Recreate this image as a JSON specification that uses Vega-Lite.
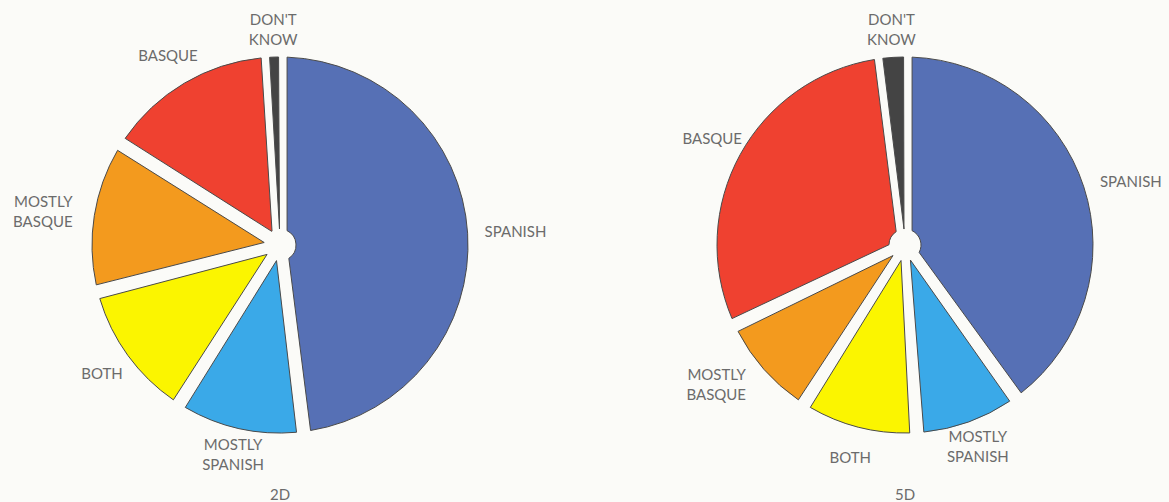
{
  "$schema": "https://vega.github.io/schema/vega-lite/v6.json",
  "background": "#fbfbf8",
  "padding": {"left": 0, "top": 6, "right": 0, "bottom": 0},
  "spacing": 81,
  "config": {
    "view": {"stroke": null},
    "title": {"font": "Lato", "fontSize": 15, "fontWeight": "normal", "color": "#6b6b6b", "orient": "bottom", "anchor": "middle", "offset": 0, "frame": "group"}
  },
  "datasets": {
    "d2": [
      {"answer": "SPANISH", "label": "SPANISH", "k": 1, "pct": 48},
      {"answer": "MOSTLY SPANISH", "label": "MOSTLY\nSPANISH", "k": 2, "pct": 11},
      {"answer": "BOTH", "label": "BOTH", "k": 3, "pct": 12},
      {"answer": "MOSTLY BASQUE", "label": "MOSTLY\nBASQUE", "k": 4, "pct": 13},
      {"answer": "BASQUE", "label": "BASQUE", "k": 5, "pct": 15},
      {"answer": "DON'T KNOW", "label": "DON'T\nKNOW", "k": 6, "pct": 1}
    ],
    "d5": [
      {"answer": "SPANISH", "label": "SPANISH", "k": 1, "pct": 40},
      {"answer": "MOSTLY SPANISH", "label": "MOSTLY\nSPANISH", "k": 2, "pct": 9},
      {"answer": "BOTH", "label": "BOTH", "k": 3, "pct": 10},
      {"answer": "MOSTLY BASQUE", "label": "MOSTLY\nBASQUE", "k": 4, "pct": 9},
      {"answer": "BASQUE", "label": "BASQUE", "k": 5, "pct": 30},
      {"answer": "DON'T KNOW", "label": "DON'T\nKNOW", "k": 6, "pct": 2}
    ]
  },
  "hconcat": [
    {
      "width": 560,
      "height": 478,
      "title": "2D",
      "data": {"name": "d2"},
      "encoding": {
        "theta": {"field": "pct", "type": "quantitative", "stack": true},
        "order": {"field": "k", "type": "quantitative"},
        "color": {
          "field": "answer", "type": "nominal", "legend": null,
          "scale": {
            "domain": ["SPANISH", "MOSTLY SPANISH", "BOTH", "MOSTLY BASQUE", "BASQUE", "DON'T KNOW"],
            "range": ["#5670b5", "#3aa9e8", "#fbf500", "#f39a1e", "#ef4130", "#444444"]
          }
        }
      },
      "layer": [
        {
          "mark": {"type": "arc", "outerRadius": 188, "innerRadius": 16, "padAngle": 0.075, "stroke": "#4a4a4a", "strokeWidth": 1},
          "encoding": {"opacity": {"condition": {"test": "datum.k == 6", "value": 0}, "value": 1}}
        },
        {
          "mark": {"type": "arc", "outerRadius": 188, "innerRadius": 16, "padAngle": 0.015, "stroke": "#4a4a4a", "strokeWidth": 1},
          "encoding": {"opacity": {"condition": {"test": "datum.k == 6", "value": 1}, "value": 0}}
        },
        {
          "mark": {"type": "text", "radius": 220, "font": "Lato", "fontSize": 15, "align": "center", "baseline": "middle"},
          "encoding": {
            "color": {"value": "#6b6b6b"},
            "text": {"condition": {"test": "datum.k == 3 || datum.k == 5", "field": "label"}, "value": ""}
          }
        },
        {
          "mark": {"type": "text", "radius": 205, "font": "Lato", "fontSize": 15, "align": "left", "baseline": "middle"},
          "encoding": {
            "color": {"value": "#6b6b6b"},
            "text": {"condition": {"test": "datum.k == 1", "field": "label"}, "value": ""}
          }
        },
        {
          "mark": {"type": "text", "radius": 210, "font": "Lato", "fontSize": 15, "lineBreak": "\n", "lineHeight": 20, "dy": -10, "align": "right", "baseline": "middle"},
          "encoding": {
            "color": {"value": "#6b6b6b"},
            "text": {"condition": {"test": "datum.k == 4", "field": "label"}, "value": ""}
          }
        },
        {
          "mark": {"type": "text", "radius": 215, "font": "Lato", "fontSize": 15, "lineBreak": "\n", "lineHeight": 20, "dy": -10, "align": "center", "baseline": "middle"},
          "encoding": {
            "color": {"value": "#6b6b6b"},
            "text": {"condition": {"test": "datum.k == 2 || datum.k == 6", "field": "label"}, "value": ""}
          }
        }
      ]
    },
    {
      "width": 528,
      "height": 478,
      "title": "5D",
      "data": {"name": "d5"},
      "encoding": {
        "theta": {"field": "pct", "type": "quantitative", "stack": true},
        "order": {"field": "k", "type": "quantitative"},
        "color": {
          "field": "answer", "type": "nominal", "legend": null,
          "scale": {
            "domain": ["SPANISH", "MOSTLY SPANISH", "BOTH", "MOSTLY BASQUE", "BASQUE", "DON'T KNOW"],
            "range": ["#5670b5", "#3aa9e8", "#fbf500", "#f39a1e", "#ef4130", "#444444"]
          }
        }
      },
      "layer": [
        {
          "mark": {"type": "arc", "outerRadius": 188, "innerRadius": 16, "padAngle": 0.075, "stroke": "#4a4a4a", "strokeWidth": 1},
          "encoding": {"opacity": {"condition": {"test": "datum.k == 6", "value": 0}, "value": 1}}
        },
        {
          "mark": {"type": "arc", "outerRadius": 188, "innerRadius": 16, "padAngle": 0.015, "stroke": "#4a4a4a", "strokeWidth": 1},
          "encoding": {"opacity": {"condition": {"test": "datum.k == 6", "value": 1}, "value": 0}}
        },
        {
          "mark": {"type": "text", "radius": 220, "font": "Lato", "fontSize": 15, "align": "center", "baseline": "middle"},
          "encoding": {
            "color": {"value": "#6b6b6b"},
            "text": {"condition": {"test": "datum.k == 3 || datum.k == 5", "field": "label"}, "value": ""}
          }
        },
        {
          "mark": {"type": "text", "radius": 205, "font": "Lato", "fontSize": 15, "align": "left", "baseline": "middle"},
          "encoding": {
            "color": {"value": "#6b6b6b"},
            "text": {"condition": {"test": "datum.k == 1", "field": "label"}, "value": ""}
          }
        },
        {
          "mark": {"type": "text", "radius": 212, "font": "Lato", "fontSize": 15, "lineBreak": "\n", "lineHeight": 20, "dy": -10, "align": "right", "baseline": "middle"},
          "encoding": {
            "color": {"value": "#6b6b6b"},
            "text": {"condition": {"test": "datum.k == 4", "field": "label"}, "value": ""}
          }
        },
        {
          "mark": {"type": "text", "radius": 215, "font": "Lato", "fontSize": 15, "lineBreak": "\n", "lineHeight": 20, "dy": -10, "align": "center", "baseline": "middle"},
          "encoding": {
            "color": {"value": "#6b6b6b"},
            "text": {"condition": {"test": "datum.k == 2 || datum.k == 6", "field": "label"}, "value": ""}
          }
        }
      ]
    }
  ]
}
